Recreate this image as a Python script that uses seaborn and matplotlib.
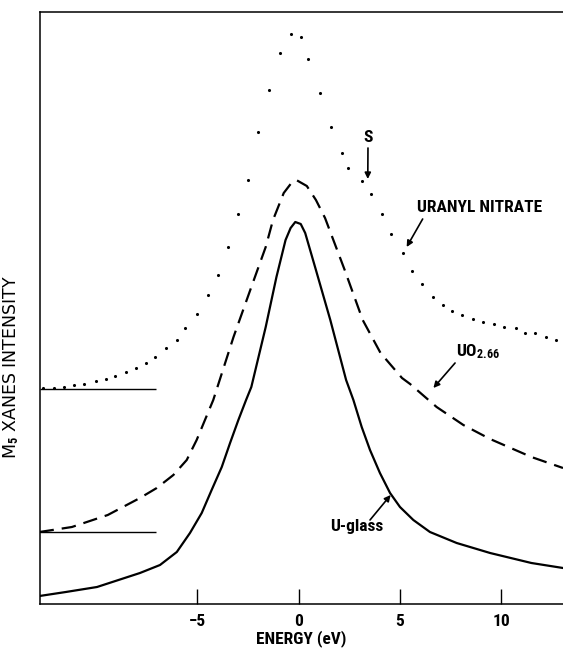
import matplotlib
matplotlib.use("Agg")
import matplotlib.pyplot as plt
from matplotlib import font_manager as fm
import seaborn as sns
import pandas as pd

# ---- data (energy in eV, intensity in arbitrary units) ----
uglass_energy = [-12.8, -11.5, -9.96, -7.84, -6.85, -6.02, -5.37, -4.79, -4.30, -3.80,
                 -3.39, -2.98, -2.60, -2.34, -1.63, -1.1, -0.65, -0.4, -0.17, 0.1,
                 0.32, 0.85, 1.56, 2.34, 2.70, 3.11, 3.52, 4.01, 4.51, 5.0,
                 5.66, 6.48, 7.80, 9.45, 11.49, 13.05]
uglass_int = [0.08, 0.12, 0.17, 0.31, 0.39, 0.52, 0.71, 0.91, 1.14, 1.37,
              1.61, 1.84, 2.04, 2.17, 2.77, 3.27, 3.64, 3.76, 3.82, 3.80,
              3.71, 3.34, 2.84, 2.24, 2.04, 1.77, 1.54, 1.31, 1.11, 0.97,
              0.84, 0.72, 0.61, 0.51, 0.41, 0.36]

uo2_energy = [-12.8, -11.2, -9.43, -7.84, -7.01, -6.19, -5.53, -5.04, -4.63, -4.22,
              -3.22, -2.34, -1.63, -1.27, -0.74, -0.4, -0.12, 0.4, 0.85, 1.3,
              2.27, 3.16, 4.04, 5.1, 5.5, 6.81, 8.13, 9.45, 11.49, 13.05]
uo2_int = [0.72, 0.77, 0.89, 1.06, 1.16, 1.29, 1.44, 1.64, 1.84, 2.04,
           2.67, 3.17, 3.57, 3.84, 4.11, 4.20, 4.24, 4.18, 4.04, 3.86,
           3.34, 2.84, 2.51, 2.26, 2.20, 1.97, 1.79, 1.65, 1.47, 1.36]

uranyl_energy = [-12.63, -12.09, -11.6, -11.12, -10.58, -10.0, -9.52, -9.08, -8.54, -8.05,
                 -7.55, -7.09, -6.56, -6.01, -5.62, -5.03, -4.5, -3.99, -3.49, -2.99,
                 -2.51, -1.99, -1.49, -0.92, -0.39, 0.09, 0.46, 1.07, 1.58, 2.15,
                 2.45, 3.11, 3.57, 4.1, 4.58, 5.15, 5.6, 6.08, 6.62, 7.1,
                 7.59, 8.07, 8.62, 9.1, 9.63, 10.16, 10.73, 11.19, 11.67, 12.2, 12.7]
uranyl_int = [2.157, 2.163, 2.173, 2.19, 2.20, 2.23, 2.247, 2.283, 2.317, 2.357,
              2.407, 2.473, 2.557, 2.64, 2.757, 2.90, 3.09, 3.29, 3.567, 3.897,
              4.24, 4.723, 5.14, 5.513, 5.697, 5.667, 5.45, 5.113, 4.773, 4.507,
              4.363, 4.23, 4.097, 3.897, 3.70, 3.507, 3.333, 3.197, 3.073, 2.99,
              2.933, 2.89, 2.847, 2.823, 2.797, 2.773, 2.757, 2.713, 2.707, 2.667, 2.64]

baseline_levels = [2.15, 0.72]
baseline_end = -7.05

xticks = [-5, 0, 5, 10]
xtick_labels = ["\u22125", "0", "5", "10"]

# ---- font choice: prefer a narrow bold sans ----
names = {f.name for f in fm.fontManager.ttflist}
narrow = None
for cand in ["Liberation Sans Narrow", "Roboto Condensed", "Open Sans Condensed",
             "Arial Narrow", "Nimbus Sans Narrow"]:
    if cand in names:
        narrow = cand
        break
if narrow is not None:
    LBL = [narrow, "DejaVu Sans"]
    LSIZE = 12.5
else:
    LBL = ["Liberation Sans", "DejaVu Sans"]
    LSIZE = 10.5

# ---- style ----
sns.set_style("white")
plt.rcParams["font.family"] = LBL
plt.rcParams["text.color"] = "black"
plt.rcParams["axes.labelcolor"] = "black"
plt.rcParams["mathtext.fontset"] = "custom"
plt.rcParams["mathtext.rm"] = LBL[0] + ":bold"
plt.rcParams["mathtext.it"] = LBL[0] + ":bold"
plt.rcParams["mathtext.bf"] = LBL[0] + ":bold"

fig = plt.figure(figsize=(5.63, 6.48), dpi=100)
ax = fig.add_axes([39.5 / 563, 44 / 648, 1 - 39.5 / 563, 592 / 648])

df_u = pd.DataFrame({"E": uglass_energy, "I": uglass_int})
df_o = pd.DataFrame({"E": uo2_energy, "I": uo2_int})
df_n = pd.DataFrame({"E": uranyl_energy, "I": uranyl_int})

sns.lineplot(data=df_u, x="E", y="I", ax=ax, color="black", lw=1.6,
             sort=False, estimator=None)
sns.lineplot(data=df_o, x="E", y="I", ax=ax, color="black", lw=1.6,
             sort=False, estimator=None, linestyle=(0, (6.5, 3.6)))
sns.scatterplot(data=df_n, x="E", y="I", ax=ax, color="black", s=5,
                marker="o", linewidth=0)

ax.hlines(baseline_levels, -12.8, baseline_end, color="black", lw=1.0)

ax.set_xlim(-12.8, 13.05)
ax.set_ylim(0, 5.92)

for side in ["left", "top", "bottom"]:
    ax.spines[side].set_visible(True)
    ax.spines[side].set_color("black")
    ax.spines[side].set_linewidth(1.1)
ax.spines["right"].set_visible(False)

ax.set_xticks(xticks)
ax.set_xticklabels(xtick_labels, fontsize=LSIZE, fontweight="bold", family=LBL,
                   color="black")
ax.tick_params(axis="x", direction="in", length=11, width=1.0, pad=7,
               bottom=True, top=False, colors="black")
ax.set_yticks([])

ax.set_xlabel("ENERGY (eV)", fontsize=LSIZE, fontweight="bold", family=LBL,
              labelpad=1, color="black")
ax.set_ylabel("M$_5$ XANES INTENSITY", fontsize=12.5, family=["DejaVu Sans"],
              color="black")
ax.yaxis.set_label_coords(-0.036, 0.40)

# ---- annotations ----
txt = dict(fontsize=LSIZE, fontweight="bold", family=LBL, color="black",
           ha="center", va="center")
arw = dict(arrowstyle="-|>", color="black", lw=1.2, mutation_scale=9,
           shrinkA=0, shrinkB=0)

ax.text(3.42, 4.66, "S", **txt)
ax.annotate("", xy=(3.41, 4.25), xytext=(3.42, 4.56), arrowprops=arw)

ax.text(8.95, 3.96, "URANYL NITRATE", **txt)
ax.annotate("", xy=(5.33, 3.57), xytext=(6.12, 3.85), arrowprops=arw)

ax.text(8.85, 2.52, "UO$_{2.66}$", **txt)
ax.annotate("", xy=(6.65, 2.16), xytext=(7.72, 2.41), arrowprops=arw)

ax.text(2.86, 0.77, "U-glass", **txt)
ax.annotate("", xy=(4.54, 1.09), xytext=(3.52, 0.84), arrowprops=arw)

fig.savefig("out.png", dpi=100)
